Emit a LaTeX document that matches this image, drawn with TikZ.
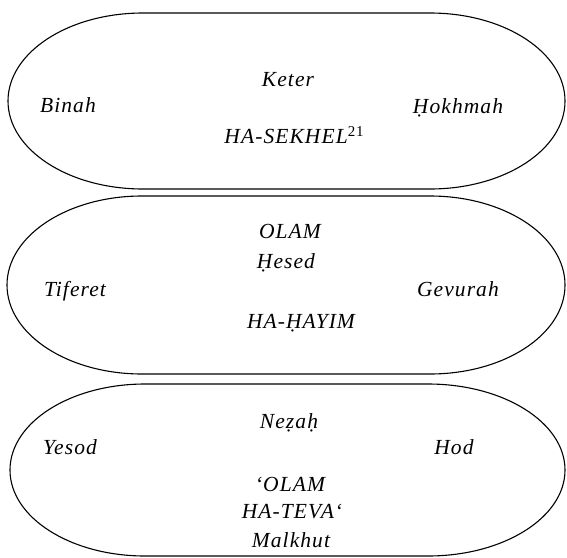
\documentclass[tikz,border=0pt]{standalone}
\usepackage{fontspec}
\setmainfont{Liberation Serif}
\newfontfamily\labelfont[LetterSpace=5]{Liberation Serif}
\begin{document}
\begin{tikzpicture}[x=1pt,y=-1pt,
  ring/.style={draw=black,line width=1.1pt},
  word/.style={anchor=base,inner sep=0pt,
    font=\labelfont\itshape\fontsize{21.5}{24}\selectfont}]
\useasboundingbox (0,0) rectangle (567,557);

% three rounded bands, each a straight top and bottom with elliptic ends
\draw[ring] (143,13) -- (430,13)
  arc[start angle=90,end angle=-90,x radius=135pt,y radius=88pt]
  -- (143,189)
  arc[start angle=270,end angle=90,x radius=135pt,y radius=88pt] -- cycle;
\draw[ring] (142,196) -- (430,196)
  arc[start angle=90,end angle=-90,x radius=135pt,y radius=89pt]
  -- (142,374)
  arc[start angle=270,end angle=90,x radius=135pt,y radius=89pt] -- cycle;
\draw[ring] (145,384) -- (428,384)
  arc[start angle=90,end angle=-90,x radius=137pt,y radius=86pt]
  -- (145,556)
  arc[start angle=270,end angle=90,x radius=135pt,y radius=86pt] -- cycle;

% upper band
\node[word] (keter)   at (288,86.5)  {Keter};
\node[word] (binah)   at (68,112.5)  {Binah};
\node[word] (hokhmah) at (458,113.5) {Ḥokhmah};
\node[word] (sekhel)  at (294,143.5) {HA-SEKHEL{\upshape\fontsize{15}{16}\selectfont\raisebox{0.5em}{21}}};

% middle band
\node[word] (olam1)   at (290,238.5) {OLAM};
\node[word] (hesed)   at (286,268.5) {Ḥesed};
\node[word] (tiferet) at (75,296.5)  {Tiferet};
\node[word] (gevurah) at (458,296.5) {Gevurah};
\node[word] (hayim)   at (301,328.5) {HA-ḤAYIM};

% lower band
\node[word] (nezah)   at (289,428.5) {Neẓaḥ};
\node[word] (yesod)   at (70,454.5)  {Yesod};
\node[word] (hod)     at (454,454.5) {Hod};
\node[word] (olam2)   at (290,491.5) {‘OLAM};
\node[word] (teva)    at (292,518.5) {HA-TEVA‘};
\node[word] (malkhut) at (291,547.5) {Malkhut};
\end{tikzpicture}
\end{document}
